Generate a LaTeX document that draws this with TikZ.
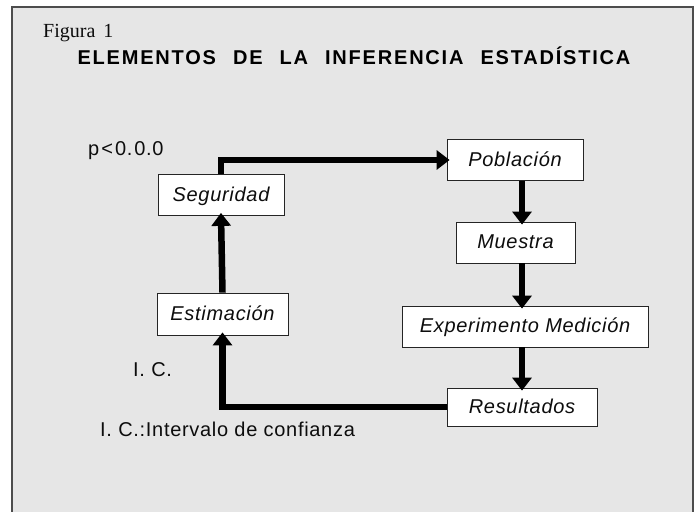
\documentclass[tikz,border=0pt]{standalone}
\usepackage{fontspec}
\setmainfont{Liberation Serif}
\setsansfont{Liberation Sans}
\newfontfamily\boxfont[LetterSpace=3.5]{Liberation Sans}
\newfontfamily\titlefont[LetterSpace=9]{Liberation Sans}
\usetikzlibrary{arrows.meta}
\definecolor{bg}{HTML}{E6E6E6}
\definecolor{frame}{HTML}{4D4D4D}
\definecolor{ink}{HTML}{0D0D0D}
\tikzset{
  stepbox/.style={draw=ink!90, line width=0.8pt, fill=white, inner sep=0pt,
    text height=17pt, text depth=5pt, font=\boxfont\itshape\fontsize{20}{24}\selectfont, text=ink},
  lbl/.style={inner sep=0pt, anchor=base west, text=ink, font=\boxfont\fontsize{20}{24}\selectfont},
  conn/.style={line width=6.5pt, -{Triangle[width=19pt,length=13pt]}, shorten >=-3pt, line join=miter}
}
\begin{document}
\begin{tikzpicture}[x=1pt,y=-1pt]
\useasboundingbox (0,0) rectangle (700,511);
\fill[white] (0,0) rectangle (700,511);
\filldraw[fill=bg, draw=frame, line width=1.5pt] (12,7) rectangle (693,530);
% texts
\node[inner sep=0pt, anchor=base west, font=\rmfamily\fontsize{20}{24}\selectfont, text=ink] (fig) at (43,37.7) {Figura\hspace{8pt}1};
\node[inner sep=0pt, anchor=base, font=\titlefont\bfseries\fontsize{20}{24}\selectfont, text=black] (title) at (354,64.5)
  {ELEMENTOS\hspace{17pt}DE\hspace{17pt}LA\hspace{17pt}INFERENCIA\hspace{17pt}ESTADÍSTICA};
\node[lbl] (p) at (88,155) {p\hspace{2pt}<\hspace{2pt}0.\hspace{2pt}0.0};
\node[lbl] (ic) at (133,376) {I. C.};
\node[lbl] (icl) at (100,436) {I. C.:Intervalo de confianza};
% boxes
\node[stepbox, minimum width=126pt, minimum height=41pt] (seg) at (221,195) {Seguridad};
\node[stepbox, minimum width=136pt, minimum height=41pt] (pob) at (515,160) {Población};
\node[stepbox, minimum width=119pt, minimum height=41pt] (mue) at (515.5,242.5) {Muestra};
\node[stepbox, minimum width=246pt, minimum height=41pt] (exp) at (525,326.5) {Experimento Medición};
\node[stepbox, minimum width=150pt, minimum height=38pt] (res) at (522,407) {Resultados};
\node[stepbox, minimum width=131pt, minimum height=42pt] (est) at (222.5,314) {Estimación};
% connectors
\draw[conn] (seg.north) |- (pob.west);
\draw[conn] (pob.south -| res.north) -- (mue.north -| res.north);
\draw[conn] (mue.south -| res.north) -- (exp.north -| res.north);
\draw[conn] (exp.south -| res.north) -- (res.north);
\draw[conn] (res.west) -| (est.south);
\draw[conn] (est.north) -- (seg.south);
\end{tikzpicture}
\end{document}
